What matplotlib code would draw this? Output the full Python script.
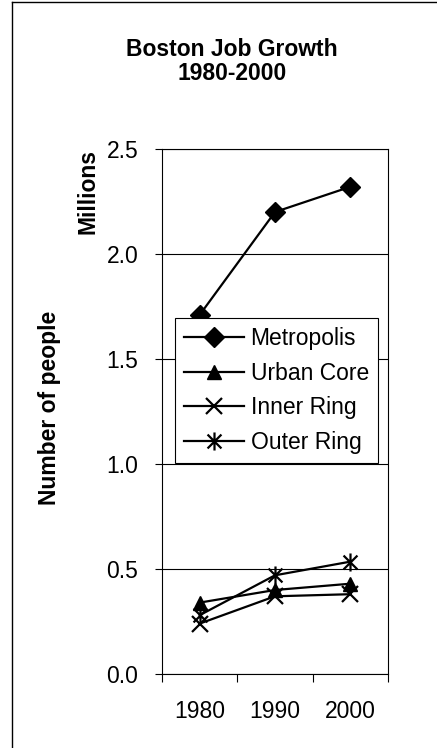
import numpy as np
import matplotlib
matplotlib.use('Agg')
import matplotlib.pyplot as plt
from matplotlib.path import Path
from matplotlib.lines import Line2D

plt.rcParams['font.family'] = ['Liberation Sans', 'DejaVu Sans']

years = ['1980', '1990', '2000']
metropolis = [1.71, 2.20, 2.32]
urban_core = [0.34, 0.40, 0.43]
inner_ring = [0.24, 0.37, 0.38]
outer_ring = [0.28, 0.47, 0.535]
series_names = ['Metropolis', 'Urban Core', 'Inner Ring', 'Outer Ring']

# Excel-style star: an X with a vertical bar
star = Path([(-1, -1), (1, 1), (-1, 1), (1, -1), (0, -1.3), (0, 1.3)],
            [Path.MOVETO, Path.LINETO, Path.MOVETO, Path.LINETO, Path.MOVETO, Path.LINETO])

W, H = 437, 748
fs = 16.5
fig = plt.figure(figsize=(W / 100, H / 100), dpi=100)
ax = fig.add_axes([162 / W, 1 - 674 / H, 226 / W, 525 / H])

x = np.arange(len(years))
ax.plot(x, metropolis, color='black', lw=1.6, marker='D', ms=10, label=series_names[0])
ax.plot(x, urban_core, color='black', lw=1.6, marker='^', ms=10, label=series_names[1])
ax.plot(x, inner_ring, color='black', lw=1.6, marker='x', ms=12, mew=1.6, label=series_names[2])
ax.plot(x, outer_ring, color='black', lw=1.6, marker=star, ms=13, mew=1.6,
        mfc='none', label=series_names[3])

ax.set_xlim(-0.5, 2.5)
ax.set_ylim(0, 2.5)
ax.set_yticks([0, 0.5, 1.0, 1.5, 2.0, 2.5])
ax.set_yticklabels(['0.0', '0.5', '1.0', '1.5', '2.0', '2.5'])
ax.yaxis.grid(True, color='black', lw=0.8)
ax.set_axisbelow(True)

# category boundaries as major ticks, labels on minor ticks
ax.set_xticks([-0.5, 0.5, 1.5, 2.5])
ax.set_xticklabels([])
ax.set_xticks(x, minor=True)
ax.set_xticklabels(years, minor=True)
ax.tick_params(axis='x', which='major', length=6, width=0.8, direction='out')
ax.tick_params(axis='x', which='minor', length=0, pad=19, labelsize=fs)
ax.tick_params(axis='y', length=5, width=0.8, pad=12, labelsize=fs)

for s in ax.spines.values():
    s.set_color('black')
    s.set_linewidth(0.8)

leg = ax.legend(loc='upper left', bbox_to_anchor=(0.0575, 0.678), fontsize=fs,
                frameon=True, fancybox=False, framealpha=1, edgecolor='black',
                handlelength=2.6, handletextpad=0.3, labelspacing=0.5,
                borderpad=0.4, borderaxespad=0)
leg.get_frame().set_linewidth(0.8)

fig.text(232 / W, 1 - 50 / H, 'Boston Job Growth', ha='center', va='center',
         fontsize=fs, fontweight='bold')
fig.text(232 / W, 1 - 73 / H, '1980-2000', ha='center', va='center',
         fontsize=fs, fontweight='bold')
fig.text(50 / W, 1 - 408 / H, 'Number of people', rotation=90, ha='center',
         va='center', fontsize=fs, fontweight='bold')
fig.text(88 / W, 1 - 191 / H, 'Millions', rotation=90, ha='center',
         va='center', fontsize=fs, fontweight='bold')

# outer chart border (left and top edges visible)
fig.add_artist(Line2D([12 / W, 12 / W], [0, 1 - 2 / H], color='black', lw=1.0))
fig.add_artist(Line2D([12 / W, 1], [1 - 2 / H, 1 - 2 / H], color='black', lw=1.0))

fig.savefig('out.png', dpi=100)
